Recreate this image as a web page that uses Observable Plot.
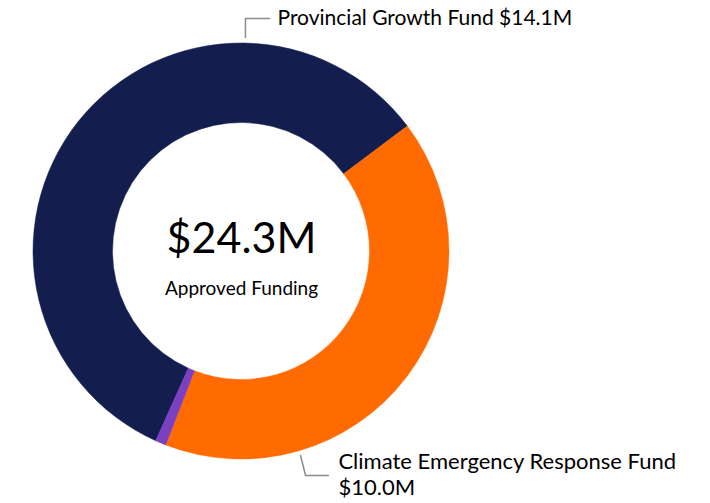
<!DOCTYPE html>
<html>
<head>
<meta charset="utf-8">
<script src="https://cdn.jsdelivr.net/npm/d3@7"></script>
<script src="https://cdn.jsdelivr.net/npm/@observablehq/plot@0.6"></script>
<style>
  html, body { margin: 0; padding: 0; background: #fff; }
  #chart svg { display: block; }
</style>
</head>
<body>
<div id="chart"></div>
<script>
// ---- data ----
const categories = ["Provincial Growth Fund", "Climate Emergency Response Fund", "Other"];
const values = [14.1, 10.0, 0.2];
const colors = ["#131E4F", "#FF6B00", "#7B3FC2"];
const totalLabel = "$24.3M";
const totalSub = "Approved Funding";
const labelLines = ["Provincial Growth Fund $14.1M", "Climate Emergency Response Fund", "$10.0M"];

// ---- layout ----
const FONT = "Lato, 'Open Sans', sans-serif";
const innerRatio = 128.5 / 208;
const startDeg = 204.2;

const slices = categories.map((c, i) => ({category: c, value: values[i], color: colors[i]}));

function donut(index, scales) {
  const {x, y} = scales;
  const cx = x(0), cy = y(0);
  const r = Math.abs(x(1) - x(0));
  const pie = d3.pie().sort(null).value(d => d.value)
    .startAngle(startDeg * Math.PI / 180)
    .endAngle(startDeg * Math.PI / 180 + 2 * Math.PI);
  const arc = d3.arc().innerRadius(r * innerRatio).outerRadius(r);
  const g = d3.create("svg:g").attr("transform", `translate(${cx},${cy})`);
  g.selectAll("path").data(pie(slices)).join("path")
    .attr("d", arc)
    .attr("fill", d => d.data.color)
    .attr("stroke", d => d.data.color)
    .attr("stroke-width", 0.5);
  return g.node();
}

const leaders = [
  {k: 0, x: 0.019, y: 1.029}, {k: 0, x: 0.019, y: 1.12}, {k: 0, x: 0.135, y: 1.12},
  {k: 1, x: 0.284, y: -0.981}, {k: 1, x: 0.308, y: -1.077}, {k: 1, x: 0.418, y: -1.077}
];

const chart = Plot.plot({
  width: 710,
  height: 503,
  margin: 0,
  x: {axis: null, domain: [-1, 1], range: [33, 449]},
  y: {axis: null, domain: [-1, 1], range: [459, 43]},
  style: {background: "#fff", fontFamily: FONT, overflow: "visible"},
  marks: [
    donut,
    Plot.line(leaders, {x: "x", y: "y", z: "k", stroke: "#8C8C8C", strokeWidth: 1.5, curve: "linear"}),
    Plot.text([labelLines[0]], {x: 0.173, y: 1.12, text: d => d, textAnchor: "start", fontSize: 21, fill: "#000"}),
    Plot.text([labelLines[1]], {x: 0.466, y: -1.01, text: d => d, textAnchor: "start", fontSize: 22, fill: "#000"}),
    Plot.text([labelLines[2]], {x: 0.466, y: -1.135, text: d => d, textAnchor: "start", fontSize: 22, fill: "#000"}),
    Plot.text([totalLabel], {x: 0, y: 0.058, text: d => d, fontSize: 43, fill: "#000"}),
    Plot.text([totalSub], {x: 0, y: -0.18, text: d => d, fontSize: 19, fill: "#000"})
  ]
});
document.getElementById("chart").append(chart);
</script>
</body>
</html>
